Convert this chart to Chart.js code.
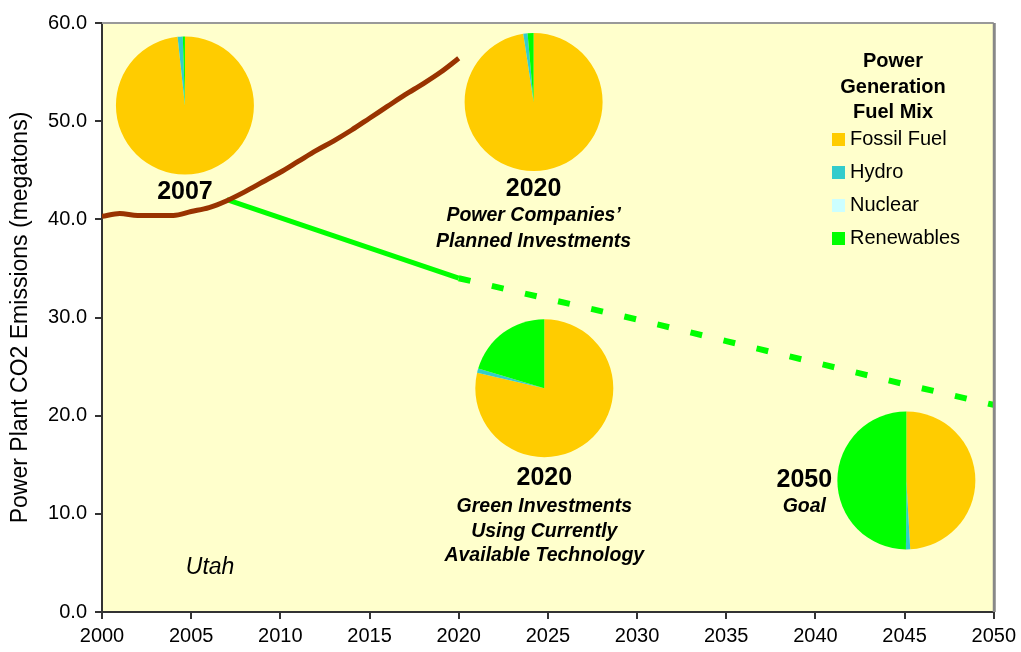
<!DOCTYPE html>
<html lang="en">
<head>
    <meta charset="UTF-8">
    <title>Utah power plant CO2 emissions</title>
    <script src="https://cdn.jsdelivr.net/npm/chart.js"></script>
    <style>
        html, body { margin: 0; padding: 0; background: #fff; }
        #myChart { display: block; }
    </style>
</head>
<body>
    <canvas id="myChart" width="1021" height="652"></canvas>

    <script>
        // emissions (megatons)
        const historyYears = [2000, 2001, 2002, 2003, 2004, 2005, 2006, 2007, 2008, 2009, 2010,
                              2011, 2012, 2013, 2014, 2015, 2016, 2017, 2018, 2019, 2020];
        const historyValues = [40.3, 40.6, 40.4, 40.4, 40.4, 40.8, 41.2, 41.9, 42.8, 43.8, 44.8,
                               45.9, 47.0, 48.0, 49.1, 50.3, 51.5, 52.7, 53.8, 55.0, 56.4];
        const greenYears = [2007, 2020];
        const greenValues = [42.0, 34.0];
        const goalYears = [2020, 2025, 2030, 2035, 2040, 2045, 2050];
        const goalValues = [34.0, 31.9, 29.8, 27.6, 25.4, 23.2, 21.1];

        // fuel mix pies (percent), placed at year / value
        const fuelNames = ['Fossil Fuel', 'Hydro', 'Nuclear', 'Renewables'];
        const fuelColors = ['#FFCC00', '#33CCCC', '#CCFFFF', '#00FF00'];
        const pieX = [2004.65, 2024.2, 2024.8, 2045.1];
        const pieY = [51.6, 51.95, 22.8, 13.4];
        const pieFossil = [98.3, 97.6, 78.6, 49.1];
        const pieHydro = [1.2, 1.0, 1.0, 1.0];
        const pieNuclear = [0, 0, 0, 0];
        const pieRenew = [0.5, 1.4, 20.4, 49.9];

        const FONT = '"Liberation Sans", Arial, sans-serif';

        const backgroundPlugin = {
            id: 'plotBackground',
            beforeDraw(chart) {
                const {ctx, chartArea: a} = chart;
                ctx.save();
                ctx.fillStyle = '#FFFFCC';
                ctx.fillRect(a.left, a.top, a.right - a.left, a.bottom - a.top);
                ctx.restore();
            },
            afterDraw(chart) {
                const {ctx, chartArea: a} = chart;
                ctx.save();
                ctx.strokeStyle = '#999';
                ctx.lineWidth = 2;
                ctx.beginPath();
                ctx.moveTo(a.left, a.top);
                ctx.lineTo(a.right, a.top);
                ctx.stroke();
                ctx.strokeStyle = '#888';
                ctx.lineWidth = 3;
                ctx.beginPath();
                ctx.moveTo(a.right + 0.5, a.top);
                ctx.lineTo(a.right + 0.5, a.bottom);
                ctx.stroke();
                ctx.restore();
            }
        };

        function text(ctx, str, x, y, font) {
            ctx.font = font;
            ctx.fillText(str, x, y);
        }

        const piePlugin = {
            id: 'fuelPies',
            afterDatasetsDraw(chart) {
                const {ctx, scales: {x, y}} = chart;
                const r = 69;
                const centers = [];
                ctx.save();
                for (let i = 0; i < pieX.length; i++) {
                    const cx = x.getPixelForValue(pieX[i]);
                    const cy = y.getPixelForValue(pieY[i]);
                    centers.push([cx, cy]);
                    const parts = [pieFossil[i], pieHydro[i], pieNuclear[i], pieRenew[i]];
                    const total = parts.reduce((a, b) => a + b, 0);
                    let start = -Math.PI / 2;
                    parts.forEach((v, k) => {
                        if (v <= 0) return;
                        const end = start + v / total * Math.PI * 2;
                        ctx.beginPath();
                        ctx.moveTo(cx, cy);
                        ctx.arc(cx, cy, r, start, end);
                        ctx.closePath();
                        ctx.fillStyle = fuelColors[k];
                        ctx.fill();
                        start = end;
                    });
                }

                // pie captions
                ctx.fillStyle = '#000';
                ctx.textAlign = 'center';
                ctx.textBaseline = 'middle';
                const big = 'bold 25px ' + FONT;
                const sub = 'italic bold 19.5px ' + FONT;
                let [cx, cy] = centers[0];
                text(ctx, '2007', cx, cy + 87, big);
                [cx, cy] = centers[1];
                text(ctx, '2020', cx, cy + 87, big);
                text(ctx, 'Power Companies\u2019', cx, cy + 114, sub);
                text(ctx, 'Planned Investments', cx, cy + 140, sub);
                [cx, cy] = centers[2];
                text(ctx, '2020', cx, cy + 90, big);
                text(ctx, 'Green Investments', cx, cy + 118, sub);
                text(ctx, 'Using Currently', cx, cy + 143, sub);
                text(ctx, 'Available Technology', cx, cy + 167, sub);
                [cx, cy] = centers[3];
                text(ctx, '2050', cx - 102, cy, big);
                text(ctx, 'Goal', cx - 102, cy + 26, sub);

                ctx.textAlign = 'left';
                text(ctx, 'Utah', x.getPixelForValue(2004.7), y.getPixelForValue(4.5), 'italic 23px ' + FONT);

                // fuel mix legend
                ctx.textAlign = 'center';
                const lx = 893;
                const tf = 'bold 20px ' + FONT;
                text(ctx, 'Power', lx, 61, tf);
                text(ctx, 'Generation', lx, 87, tf);
                text(ctx, 'Fuel Mix', lx, 112, tf);
                ctx.textAlign = 'left';
                fuelNames.forEach((name, k) => {
                    const ly = 139 + k * 33;
                    ctx.fillStyle = fuelColors[k];
                    ctx.fillRect(832, ly - 6, 13, 13);
                    ctx.fillStyle = '#000';
                    text(ctx, name, 850, ly, '20px ' + FONT);
                });
                ctx.restore();
            }
        };

        const toPoints = (xs, ys) => xs.map((v, i) => ({x: v, y: ys[i]}));

        const config = {
            type: 'line',
            data: {
                datasets: [
                    {
                        label: 'Historic and planned',
                        data: toPoints(historyYears, historyValues),
                        borderColor: '#993300',
                        borderWidth: 5,
                        pointRadius: 0,
                        cubicInterpolationMode: 'monotone'
                    },
                    {
                        label: 'Green investments',
                        data: toPoints(greenYears, greenValues),
                        borderColor: '#00FF00',
                        borderWidth: 5,
                        pointRadius: 0,
                        tension: 0
                    },
                    {
                        label: 'Goal',
                        data: toPoints(goalYears, goalValues),
                        borderColor: '#00FF00',
                        borderWidth: 6,
                        borderDash: [12, 22],
                        borderCapStyle: 'butt',
                        pointRadius: 0,
                        tension: 0
                    }
                ]
            },
            options: {
                responsive: false,
                animation: false,
                layout: { padding: { top: 23, right: 25, left: 0, bottom: 0 } },
                scales: {
                    x: {
                        type: 'linear',
                        min: 2000,
                        max: 2050,
                        afterFit(scale) { scale.height = 40; },
                        ticks: {
                            stepSize: 5,
                            color: '#000',
                            font: { family: FONT, size: 20 },
                            padding: 5,
                            maxRotation: 0,
                            callback: v => String(v)
                        },
                        grid: { drawOnChartArea: false, drawTicks: true, tickLength: 7, color: '#333', lineWidth: 2 },
                        border: { display: true, color: '#333', width: 2 }
                    },
                    y: {
                        min: 0,
                        max: 60,
                        afterFit(scale) { scale.width = 102; },
                        ticks: {
                            stepSize: 10,
                            color: '#000',
                            font: { family: FONT, size: 20 },
                            padding: 8,
                            callback: v => v.toFixed(1)
                        },
                        title: {
                            display: true,
                            text: 'Power Plant CO2 Emissions (megatons)',
                            color: '#000',
                            font: { family: FONT, size: 23 },
                            padding: { top: 7, bottom: 0 }
                        },
                        grid: { drawOnChartArea: false, drawTicks: true, tickLength: 7, color: '#333', lineWidth: 2 },
                        border: { display: true, color: '#333', width: 2 }
                    }
                },
                plugins: {
                    legend: { display: false },
                    tooltip: { enabled: false }
                }
            },
            plugins: [backgroundPlugin, piePlugin]
        };

        new Chart(document.getElementById('myChart').getContext('2d'), config);
    </script>
</body>
</html>
